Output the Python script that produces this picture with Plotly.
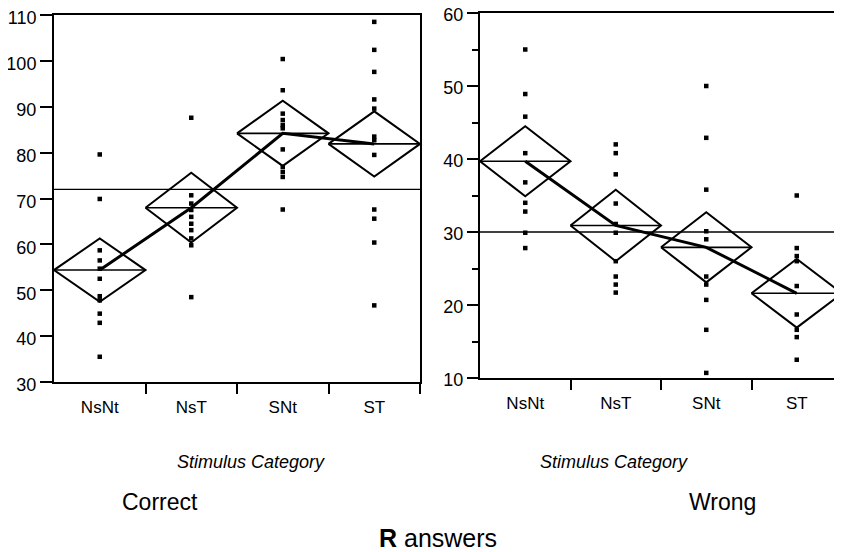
import plotly.graph_objects as go

OFF = 8  # page body margin offset
W, H = 842 - OFF, 552 - OFF

categories = ["NsNt", "NsT", "SNt", "ST"]

# Correct answers (left panel)
correct_nsnt = [79.6, 69.9, 58.7, 56.5, 54.7, 52.5, 48.7, 47.8, 44.9, 42.9, 35.5]
correct_nst = [87.6, 70.7, 68.9, 67.5, 66.0, 64.5, 63.1, 61.3, 59.8, 48.5]
correct_snt = [100.4, 93.6, 88.5, 87.1, 86.0, 85.3, 80.7, 76.9, 75.8, 74.7, 67.6]
correct_st = [108.5, 102.4, 97.6, 91.6, 89.6, 83.5, 82.7, 79.5, 67.6, 65.6, 60.4, 46.7]
correct_means = [54.4, 68.0, 84.2, 81.9]
correct_ci = [6.9, 7.6, 7.1, 7.1]
correct_grand = 72.0

# Wrong answers (right panel)
wrong_nsnt = [55.0, 48.9, 45.8, 40.8, 36.8, 34.0, 32.8, 29.9, 27.8]
wrong_nst = [42.0, 40.8, 37.9, 33.9, 31.1, 29.9, 26.0, 23.9, 22.8, 21.7]
wrong_snt = [50.0, 42.9, 35.8, 30.1, 29.0, 23.9, 22.8, 20.7, 16.6, 10.7]
wrong_st = [35.0, 27.8, 26.7, 26.0, 22.6, 18.7, 16.6, 15.6, 12.5]
wrong_means = [39.7, 30.9, 27.9, 21.6]
wrong_ci = [4.8, 4.9, 4.8, 4.7]
wrong_grand = 30.0

FONT = "Liberation Sans, Arial, sans-serif"
fig = go.Figure()


def px_x(px):
    return (px - OFF) / W


def px_y(py):
    return 1 - (py - OFF) / H


def add_panel(xa, ya, groups, means, ci, grand):
    centers = [i + 0.5 for i in range(len(categories))]
    fig.add_trace(go.Scatter(x=[0, len(categories)], y=[grand, grand], mode="lines",
                             line=dict(color="black", width=1.3), xaxis=xa, yaxis=ya,
                             showlegend=False, hoverinfo="skip"))
    for c, vals in zip(centers, groups):
        fig.add_trace(go.Scatter(x=[c] * len(vals), y=vals, mode="markers",
                                 marker=dict(symbol="square", size=4.5, color="black"),
                                 xaxis=xa, yaxis=ya, showlegend=False))
    for c, m, h in zip(centers, means, ci):
        fig.add_trace(go.Scatter(x=[c - 0.5, c, c + 0.5, c, c - 0.5],
                                 y=[m, m + h, m, m - h, m], mode="lines",
                                 line=dict(color="black", width=2), xaxis=xa, yaxis=ya,
                                 showlegend=False, hoverinfo="skip"))
        fig.add_trace(go.Scatter(x=[c - 0.5, c + 0.5], y=[m, m], mode="lines",
                                 line=dict(color="black", width=1.6), xaxis=xa, yaxis=ya,
                                 showlegend=False, hoverinfo="skip"))
    fig.add_trace(go.Scatter(x=centers, y=means, mode="lines",
                             line=dict(color="black", width=3), xaxis=xa, yaxis=ya,
                             showlegend=False, hoverinfo="skip"))


add_panel("x", "y", [correct_nsnt, correct_nst, correct_snt, correct_st],
          correct_means, correct_ci, correct_grand)
add_panel("x2", "y2", [wrong_nsnt, wrong_nst, wrong_snt, wrong_st],
          wrong_means, wrong_ci, wrong_grand)

xcommon = dict(range=[0, 4], tickmode="array", tickvals=[0.5, 1.5, 2.5, 3.5],
               ticktext=categories, ticks="outside", ticklen=9,
               tickcolor="rgba(0,0,0,0)", showgrid=False, zeroline=False,
               showline=True, linecolor="black", linewidth=2, mirror=True,
               automargin=False,
               tickfont=dict(family=FONT, size=17, color="black"),
               minor=dict(tickmode="array", tickvals=[1, 2, 3, 4], ticks="outside",
                          ticklen=10, tickwidth=2, tickcolor="black", showgrid=False))

ycommon = dict(ticks="outside", tickwidth=2, tickcolor="black", showgrid=False,
               zeroline=False, showline=True, linecolor="black", linewidth=2,
               mirror=True, automargin=False, ticklabeloverflow="allow",
               tickfont=dict(family=FONT, size=18, color="black"))


def ann(text, px, py, size):
    return dict(text=text, x=px_x(px), y=px_y(py), xref="paper", yref="paper",
                xanchor="center", yanchor="middle", showarrow=False,
                font=dict(family=FONT, size=size, color="black"))


fig.update_layout(
    width=W, height=H,
    margin=dict(l=0, r=0, t=0, b=0, autoexpand=False),
    paper_bgcolor="white", plot_bgcolor="white",
    xaxis=dict(domain=[px_x(54), px_x(420)], anchor="y", **xcommon),
    xaxis2=dict(domain=[px_x(480), 1.0], anchor="y2", **xcommon),
    yaxis=dict(domain=[px_y(382), px_y(15)], anchor="x", range=[30, 110],
               tickmode="linear", tick0=30, dtick=10, ticklen=12,
               ticklabelshift=3, **ycommon),
    yaxis2=dict(domain=[px_y(378), px_y(13)], anchor="x2", range=[10, 60],
                tickmode="linear", tick0=10, dtick=10, ticklen=11,
                ticklabelshift=2, **ycommon,
                minor=dict(tickmode="linear", tick0=15, dtick=10, ticks="outside",
                           ticklen=6, tickwidth=2, tickcolor="black", showgrid=False)),
    annotations=[
        ann("<i>Stimulus Category</i>", 251, 462, 18),
        ann("<i>Stimulus Category</i>", 614, 462, 18),
        ann("Correct", 160, 502, 23),
        ann("Wrong", 722, 502, 23),
        ann("<b>R</b> answers", 438, 538, 25),
    ],
)

fig.write_html("out.html")
